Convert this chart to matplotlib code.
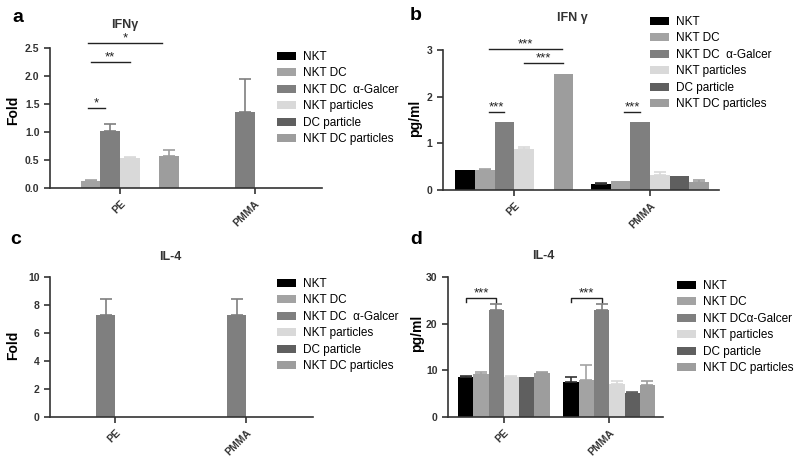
import matplotlib
matplotlib.use('Agg')
import matplotlib.pyplot as plt
import numpy as np

plt.rcParams['font.family'] = ['Liberation Sans', 'DejaVu Sans']

groups = ['PE', 'PMMA']
labels = ['NKT', 'NKT DC', 'NKT DC  \u03b1-Galcer', 'NKT particles', 'DC particle', 'NKT DC particles']
labels_d = ['NKT', 'NKT DC', 'NKT DC\u03b1-Galcer', 'NKT particles', 'DC particle', 'NKT DC particles']
colors = ['#000000', '#a3a3a3', '#7f7f7f', '#d9d9d9', '#5f5f5f', '#9d9d9d']

# panel a - IFNg fold
a_vals = [[0, 0.12, 1.02, 0.54, 0, 0.58], [0, 0, 1.35, 0, 0, 0]]
a_err = [[0, 0.03, 0.12, 0.02, 0, 0.10], [0, 0, 0.60, 0, 0, 0]]
# panel b - IFNg pg/ml
b_vals = [[0.43, 0.43, 1.45, 0.88, 0, 2.48], [0.13, 0.19, 1.45, 0.33, 0.30, 0.17]]
b_err = [[0, 0.02, 0, 0.05, 0, 0], [0.02, 0, 0, 0.05, 0, 0.05]]
# panel c - IL-4 fold
c_vals = [[0, 0, 7.3, 0, 0, 0], [0, 0, 7.3, 0, 0, 0]]
c_err = [[0, 0, 1.1, 0, 0, 0], [0, 0, 1.1, 0, 0, 0]]
# panel d - IL-4 pg/ml
d_vals = [[8.5, 9.2, 23.0, 8.5, 8.5, 9.5], [7.5, 8.0, 23.0, 7.0, 5.2, 6.8]]
d_err = [[0.2, 0.5, 1.2, 0.2, 0, 0.2], [1.0, 3.2, 1.2, 0.7, 0.2, 1.0]]

W, H = 800, 462
fig = plt.figure(figsize=(8, 4.62), dpi=100)


def px_axes(left, right, top, bottom):
    return fig.add_axes([left / W, 1 - bottom / H, (right - left) / W, (bottom - top) / H])


def fig_text(x, y, s, **kw):
    fig.text(x / W, 1 - y / H, s, **kw)


w = 0.145


def xpos(g, i):
    return g + (i - 2.5) * w


def draw(ax, vals, errs, ylim, yticks, yfmt, xlim, lab, legxy):
    handles = []
    for i in range(6):
        xs = [xpos(g, i) for g in range(2)]
        hs = [vals[g][i] for g in range(2)]
        es = [errs[g][i] for g in range(2)]
        b = ax.bar(xs, hs, width=w, color=colors[i], linewidth=0, label=lab[i])
        handles.append(b)
        for x, h, e in zip(xs, hs, es):
            if e > 0:
                ax.errorbar(x, h, yerr=[[0], [e]], fmt='none', ecolor=colors[i] if i != 0 else '#333333',
                            elinewidth=1.2, capsize=4, capthick=1.2)
    ax.set_xlim(*xlim)
    ax.set_ylim(*ylim)
    ax.set_yticks(yticks)
    ax.set_yticklabels([yfmt.format(t) for t in yticks])
    ax.set_xticks(range(2))
    ax.set_xticklabels(groups, rotation=45, ha='right', va='top', rotation_mode='anchor')
    for s in ['top', 'right']:
        ax.spines[s].set_visible(False)
    for s in ['left', 'bottom']:
        ax.spines[s].set_color('#333333')
        ax.spines[s].set_linewidth(1.2)
    ax.tick_params(axis='both', colors='#333333', width=1.2, length=4, labelsize=7.5)
    for t in ax.get_xticklabels() + ax.get_yticklabels():
        t.set_fontweight('bold')
        t.set_color('#333333')
    fig.legend(handles=handles, labels=lab, loc='upper left',
               bbox_to_anchor=(legxy[0] / W, 1 - legxy[1] / H), frameon=False,
               fontsize=8.5, handlelength=1.6, handleheight=0.65, handletextpad=0.6,
               labelspacing=0.38, borderaxespad=0, borderpad=0)


def sig_line(ax, x0, x1, y, txt, bracket=0):
    if bracket:
        ax.plot([x0, x0, x1, x1], [y - bracket, y, y, y - bracket], color='#222222', lw=1, clip_on=False)
    else:
        ax.plot([x0, x1], [y, y], color='#222222', lw=1, clip_on=False)
    ax.annotate(txt, ((x0 + x1) / 2, y), xytext=(0, 1), textcoords='offset points',
                ha='center', va='baseline', fontsize=9.5, color='#222222', annotation_clip=False)


ax_a = px_axes(50, 322, 48, 188)
draw(ax_a, a_vals, a_err, (0, 2.5), [0, 0.5, 1.0, 1.5, 2.0, 2.5], '{:.1f}', (-0.52, 1.5), labels, (277, 51))
sig_line(ax_a, xpos(0, 1) - 0.02, xpos(0, 5) - 0.05, 2.59, '*')
sig_line(ax_a, xpos(0, 1), xpos(0, 3), 2.25, '**')
sig_line(ax_a, xpos(0, 1) - 0.02, xpos(0, 2) - 0.04, 1.43, '*')

ax_b = px_axes(443, 719, 50, 190)
draw(ax_b, b_vals, b_err, (0, 3), [0, 1, 2, 3], '{:d}', (-0.526, 1.51), labels, (650, 16))
sig_line(ax_b, xpos(0, 1) + 0.03, xpos(0, 5) - 0.01, 3.02, '***')
sig_line(ax_b, xpos(0, 3), xpos(0, 5), 2.72, '***')
sig_line(ax_b, xpos(0, 1) + 0.03, xpos(0, 2), 1.67, '***')
sig_line(ax_b, xpos(1, 1) + 0.03, xpos(1, 2), 1.67, '***')

ax_c = px_axes(50, 313, 277, 417)
draw(ax_c, c_vals, c_err, (0, 10), [0, 2, 4, 6, 8, 10], '{:d}', (-0.5, 1.51), labels, (277, 278))

ax_d = px_axes(448, 663, 277, 417)
draw(ax_d, d_vals, d_err, (0, 30), [0, 10, 20, 30], '{:d}', (-0.53, 1.51), labels_d, (677, 280))
sig_line(ax_d, xpos(0, 0), xpos(0, 2), 25.5, '***', bracket=0.8)
sig_line(ax_d, xpos(1, 0), xpos(1, 2), 25.5, '***', bracket=0.8)

# panel letters, titles, y labels
for x, y, s in [(12, 18, 'a'), (410, 16, 'b'), (10, 240, 'c'), (410, 240, 'd')]:
    fig_text(x, y, s, fontsize=14, fontweight='bold', ha='left', va='center')
for x, y, s in [(125, 25, 'IFN\u03b3'), (572, 18, 'IFN \u03b3'), (170, 257, 'IL-4'), (543, 256, 'IL-4')]:
    fig_text(x, y, s, fontsize=9, fontweight='bold', ha='center', va='center', color='#333333')
for x, y, s in [(13, 110, 'Fold'), (415, 118, 'pg/ml'), (13, 345, 'Fold'), (417, 333, 'pg/ml')]:
    fig_text(x, y, s, fontsize=10, fontweight='bold', ha='center', va='center', rotation=90)

fig.savefig('out.png', dpi=100)
